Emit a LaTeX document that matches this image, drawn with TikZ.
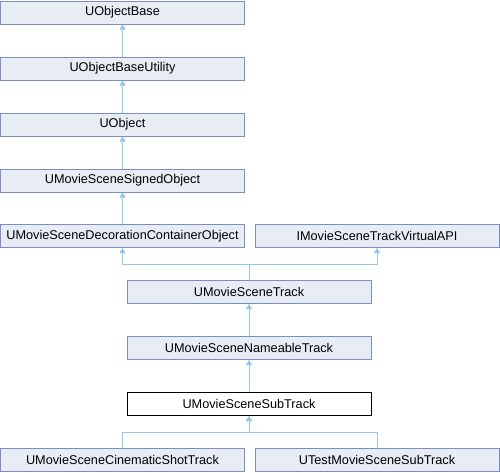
\documentclass[tikz,border=0pt]{standalone}
\usepackage{fontspec}
\setmainfont{Liberation Sans}
\usetikzlibrary{arrows.meta}
\definecolor{boxfill}{HTML}{E8ECF5}
\definecolor{boxline}{HTML}{7A8DC4}
\definecolor{edgecol}{HTML}{8EC8EA}
\begin{document}
\begin{tikzpicture}[x=1pt,y=-1pt,
  cls/.style={draw=boxline,fill=boxfill,line width=1pt,minimum width=244pt,minimum height=23pt,inner sep=0pt,font=\fontsize{12.7}{14}\selectfont},
  curcls/.style={cls,draw=black,fill=white},
  inh/.style={draw=edgecol,line width=1pt,-{Triangle[width=6pt,length=5pt,fill=edgecol]}}]
\useasboundingbox (0,0) rectangle (500,472);
\node[cls] (ob) at (122.5,12.5) {UObjectBase};
\node[cls] (obu) at (122.5,68.5) {UObjectBaseUtility};
\node[cls] (uo) at (122.5,124.5) {UObject};
\node[cls] (sig) at (122.5,180.5) {UMovieSceneSignedObject};
\node[cls] (deco) at (122.5,236) {UMovieSceneDecorationContainerObject};
\node[cls] (api) at (377,236) {IMovieSceneTrackVirtualAPI};
\node[cls] (trk) at (249,292) {UMovieSceneTrack};
\node[cls] (nam) at (249,348) {UMovieSceneNameableTrack};
\node[curcls] (sub) at (249,404) {UMovieSceneSubTrack};
\node[cls] (cin) at (122.5,460) {UMovieSceneCinematicShotTrack};
\node[cls] (tst) at (377,460) {UTestMovieSceneSubTrack};
\draw[inh] (obu.north) -- (ob.south);
\draw[inh] (uo.north) -- (obu.south);
\draw[inh] (sig.north) -- (uo.south);
\draw[inh] (deco.north) -- (sig.south);
\coordinate (j1) at (249,264);
\draw[inh] (trk.north) -- (j1) -| (deco.south);
\draw[inh] (trk.north) -- (j1) -| (api.south);
\draw[inh] (nam.north) -- (trk.south);
\draw[inh] (sub.north) -- (nam.south);
\coordinate (j2) at (249,432);
\draw[inh] (cin.north) |- (j2) -- (sub.south);
\draw[inh] (tst.north) |- (j2) -- (sub.south);
\end{tikzpicture}
\end{document}
